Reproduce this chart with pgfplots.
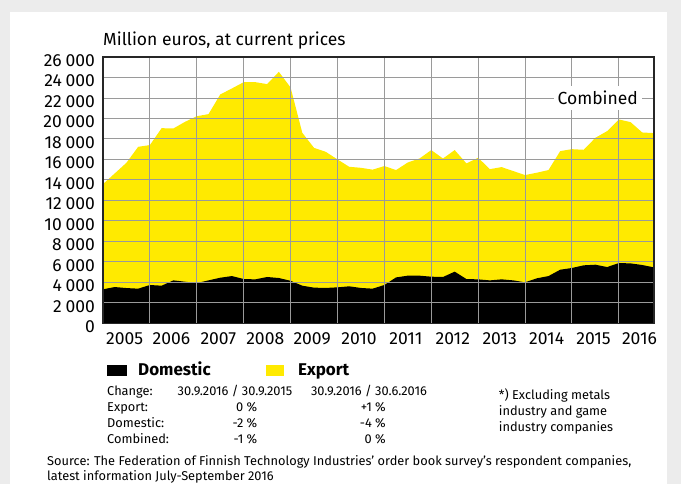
\documentclass[border=0pt]{standalone}
\usepackage{pgfplots}
\pgfplotsset{compat=1.18}
\usepackage{pgfplotstable}
\usepackage{fontspec}
\setmainfont{Fira Sans}

\definecolor{bggray}{HTML}{ECECEC}
\definecolor{ordyellow}{HTML}{FFEA00}
\definecolor{gridgray}{HTML}{9A9A9A}

% quarterly order book, million euros
\pgfplotstableread{
t        comb   dom
2005.00  13590  3320
2005.25  14630  3540
2005.50  15670  3440
2005.75  17230  3380
2006.00  17400  3740
2006.25  19050  3670
2006.50  19020  4190
2006.75  19670  4060
2007.00  20220  3930
2007.25  20420  4190
2007.50  22340  4450
2007.75  22930  4610
2008.00  23540  4320
2008.25  23540  4290
2008.50  23350  4520
2008.75  24550  4420
2009.00  23020  4150
2009.25  18600  3670
2009.50  17130  3480
2009.75  16740  3450
2010.00  16000  3510
2010.25  15280  3610
2010.50  15180  3450
2010.75  15000  3380
2011.00  15350  3740
2011.25  14960  4480
2011.50  15700  4650
2011.75  16090  4650
2012.00  16910  4550
2012.25  16090  4520
2012.50  16910  5040
2012.75  15610  4320
2013.00  16160  4290
2013.25  15050  4190
2013.50  15250  4290
2013.75  14860  4190
2014.00  14470  4000
2014.25  14700  4390
2014.50  14960  4610
2014.75  16810  5230
2015.00  17000  5400
2015.25  16940  5660
2015.50  18110  5720
2015.75  18760  5490
2016.00  19900  5880
2016.25  19640  5850
2016.50  18630  5690
2016.75  18570  5460
}\orders

\begin{document}
\begin{tikzpicture}
\useasboundingbox (0,0) rectangle (681pt,484pt);
\fill[bggray] (0,0) rectangle (681pt,484pt);
\fill[white] (10pt,0) rectangle (667pt,472pt);

\begin{axis}[
    at={(103pt,160.7pt)}, anchor=south west,
    scale only axis, width=551pt, height=266.3pt,
    xmin=2005, xmax=2016.75, ymin=0, ymax=26000,
    axis on top,
    xtick={2005.46,2006.46,2007.46,2008.46,2009.46,2010.46,2011.46,2012.46,2013.46,2014.46,2015.46,2016.44},
    xticklabels={2005,2006,2007,2008,2009,2010,2011,2012,2013,2014,2015,2016},
    minor xtick={2006,2007,...,2016},
    xminorgrids, ymajorgrids,
    ytick={0,2000,...,26000},
    major tick length=0pt, minor tick length=0pt,
    grid style={gridgray, line width=0.9pt},
    minor grid style={gridgray, line width=0.9pt},
    axis line style={black!85, line width=1.4pt},
    scaled y ticks=false,
    tick label style={font=\fontsize{17.5}{17.5}\selectfont},
    yticklabel style={xshift=-4.5pt, yshift=-3.5pt},
    xticklabel style={yshift=-5.5pt},
    /pgf/number format/.cd, 1000 sep={\hspace{0.22em}}, assume math mode=true
]
\addplot[fill=ordyellow, draw=none] table[x=t, y=comb] {\orders} \closedcycle;
\addplot[fill=black, draw=none] table[x=t, y=dom] {\orders} \closedcycle;
\coordinate (comblabel) at (axis cs:2015.55,22000);
\end{axis}

\node[fill=white, inner xsep=4pt, inner ysep=5pt, font=\fontsize{17.5}{17.5}\selectfont] at (comblabel) {Combined};

% title
\node[anchor=base west, inner sep=0pt, font=\fontsize{17.5}{17.5}\selectfont] at (103pt,438.3pt) {Million euros, at current prices};

% legend
\fill[black] (107pt,107.5pt) rectangle (126.6pt,118.5pt);
\node[anchor=base west, inner sep=0pt, font=\fontsize{17}{17}\selectfont\bfseries] at (138pt,108.3pt) {Domestic};
\fill[ordyellow] (265.5pt,107.5pt) rectangle (284pt,118.5pt);
\node[anchor=base west, inner sep=0pt, font=\fontsize{17}{17}\selectfont\bfseries] at (298pt,108.3pt) {Export};

% change table
\begin{scope}[every node/.style={inner sep=0pt, font=\fontsize{12.8}{12.8}\selectfont}]
\node[anchor=base west] at (107pt,88pt) {Change:};
\node[anchor=base west] at (107pt,72pt) {Export:};
\node[anchor=base west] at (107pt,56.3pt) {Domestic:};
\node[anchor=base west] at (107pt,40.3pt) {Combined:};
\node[anchor=base west] at (177.5pt,88pt) {30.9.2016 / 30.9.2015};
\node[anchor=base west] at (310.8pt,88pt) {30.9.2016 / 30.6.2016};
\node[anchor=base east] at (257.5pt,72pt) {0 \%};
\node[anchor=base east] at (257.5pt,56.3pt) {-2 \%};
\node[anchor=base east] at (257.5pt,40.3pt) {-1 \%};
\node[anchor=base east] at (386pt,72pt) {+1 \%};
\node[anchor=base east] at (386pt,56.3pt) {-4 \%};
\node[anchor=base east] at (386pt,40.3pt) {0 \%};
\node[anchor=base west] at (498.7pt,84.7pt) {*) Excluding metals};
\node[anchor=base west] at (498.7pt,68.7pt) {industry and game};
\node[anchor=base west] at (498.7pt,52.7pt) {industry companies};
\node[anchor=base west] at (47pt,18pt) {Source: The Federation of Finnish Technology Industries' order book survey's respondent companies,};
\node[anchor=base west] at (47pt,3.3pt) {latest information July-September 2016};
\end{scope}
\end{tikzpicture}
\end{document}
